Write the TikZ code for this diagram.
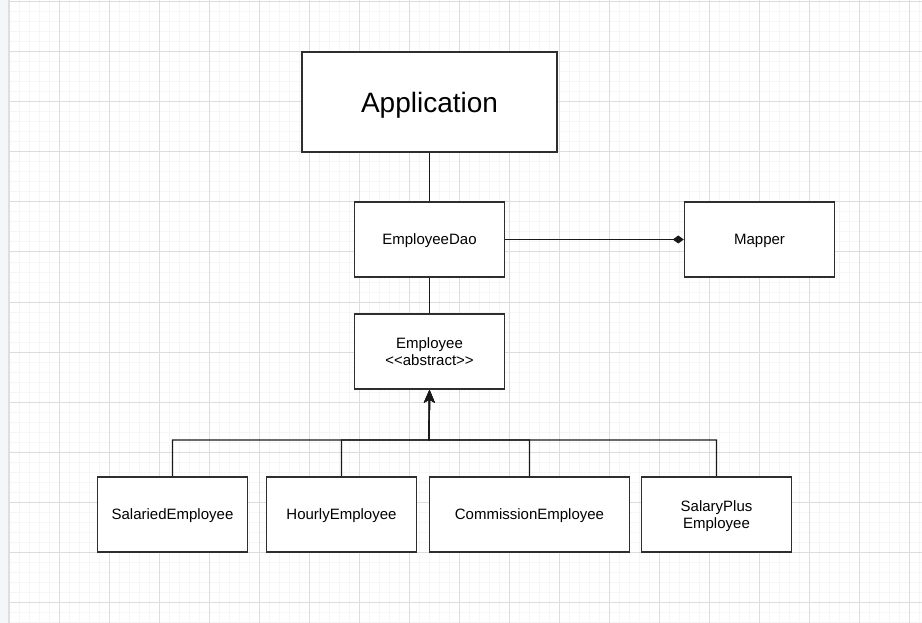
\documentclass[tikz,border=0pt]{standalone}
\usepackage{fontspec}
\setmainfont{Liberation Sans}[Ligatures=TeXOff]
\usepackage{xcolor}
\usepackage{tikz}
\usetikzlibrary{arrows.meta}
\definecolor{gridmajor}{HTML}{DDDDDD}
\definecolor{gridminor}{HTML}{F6F6F6}
\definecolor{sidebar}{HTML}{F5F6F8}
\definecolor{boxline}{HTML}{2E2E2E}
\tikzstyle{classbox} = [draw=boxline, line width=1.5pt, fill=white, minimum width=150pt, minimum height=75pt, inner sep=0pt, text depth=0pt, align=center, font=\fontsize{15}{17.5}\selectfont]
\tikzstyle{link} = [line width=1.4pt, draw=black!90]
\tikzstyle{inherit} = [link, -{Stealth[length=13pt,width=11pt,inset=3pt]}]
\tikzstyle{owns} = [link, -{Diamond[length=11pt,width=8pt]}]

\begin{document}
\begin{tikzpicture}[x=1pt, y=-1pt, node distance=112pt]
		% background grid
		\fill[white] (0,0) rectangle (922,623);
		\useasboundingbox (0,0) rectangle (922,623);
		\foreach \x in {9.5,19.5,...,919.5} \draw[gridminor, line width=1pt] (\x,0) -- (\x,623);
		\foreach \y in {2,12,...,622} \draw[gridminor, line width=1pt] (9,\y) -- (922,\y);
		\foreach \x in {9.5,59.5,...,909.5} \draw[gridmajor, line width=1pt] (\x,0) -- (\x,623);
		\foreach \y in {2,52,...,602} \draw[gridmajor, line width=1pt] (9,\y) -- (922,\y);
		\fill[sidebar] (0,0) rectangle (8,623);
		\draw[black!12] (8.5,0) -- (8.5,623);
		
		\node (app) [classbox, minimum width=255pt, minimum height=100pt, font=\fontsize{28}{32}\selectfont] at (429.5,102) {Application};
		\node (dao) [classbox, node distance=137.5pt, below of=app] {EmployeeDao};
		\node (mapper) [classbox, node distance=330pt, right of=dao] {Mapper};
		\node (emp) [classbox, below of=dao] {Employee\\<<abstract>>};
		\node (comm) [classbox, minimum width=200pt, node distance=163pt, below of=emp, xshift=100pt] {CommissionEmployee};
		\node (hourly) [classbox, node distance=188pt, left of=comm] {HourlyEmployee};
		\node (salaried) [classbox, node distance=169pt, left of=hourly] {SalariedEmployee};
		\node (plus) [classbox, node distance=187pt, right of=comm] {SalaryPlus\\Employee};
		\coordinate (bus) at (429,440);
		
		\draw [link] (app) -- (dao);
		\draw [link] (dao) -- (emp);
		\draw [owns] (dao) -- (mapper);
		\draw [inherit] (salaried.north) |- (bus) -- (emp.south);
		\draw [inherit] (hourly.north) |- (bus) -- (emp.south);
		\draw [inherit] (comm.north) |- (bus) -- (emp.south);
		\draw [inherit] (plus.north) |- (bus) -- (emp.south);
	\end{tikzpicture}
\end{document}
